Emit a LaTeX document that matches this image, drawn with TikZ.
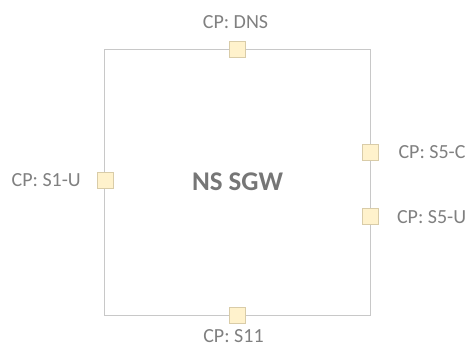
\documentclass[tikz,border=0pt]{standalone}
\usepackage{fontspec}
\setmainfont{Carlito}
\usepackage{xcolor}
\usetikzlibrary{positioning}

\definecolor{boxline}{HTML}{C8C8C8}
\definecolor{portfill}{HTML}{FFF2CC}
\definecolor{portline}{HTML}{D9CCA8}
\definecolor{labeltext}{HTML}{808080}
\definecolor{titletext}{HTML}{767676}

\begin{document}
\begin{tikzpicture}[x=1pt, y=-1pt,
    gw/.style={rectangle, draw=boxline, line width=0.9pt, minimum width=265.7pt, minimum height=265.7pt, inner sep=0pt},
    port/.style={rectangle, draw=portline, fill=portfill, line width=0.9pt, minimum size=16pt, inner sep=0pt},
    cplabel/.style={inner sep=0pt, text=labeltext, font=\fontsize{20}{24}\selectfont},
    title/.style={inner sep=0pt, text=titletext, font=\fontsize{27}{32}\selectfont\bfseries}
]
    \useasboundingbox (0,0) rectangle (466,347);

    % Gateway
    \node[gw] (sgw) at (237.2, 182.2) {};
    \node[title] (name) at (237.5, 181.7) {NS SGW};

    % Ports
    \node[port] (dns) at (237.3, 49.3) {};
    \node[port] (s11) at (237.3, 315) {};
    \node[port] (s1u) at (105.7, 180.3) {};
    \node[port] (s5c) at (370.5, 152) {};
    \node[port] (s5u) at (370.5, 216.7) {};

    % Port labels
    \node[cplabel, anchor=center] (dnslbl) at (235.5, 21.7) {CP: DNS};
    \node[cplabel, anchor=center] (s11lbl) at (233.5, 336.3) {CP: S11};
    \node[cplabel, anchor=east] (s1ulbl) at (81, 180.3) {CP: S1-U};
    \node[cplabel, anchor=west] (s5clbl) at (398.3, 152) {CP: S5-C};
    \node[cplabel, anchor=west] (s5ulbl) at (396.8, 216.7) {CP: S5-U};

\end{tikzpicture}
\end{document}
